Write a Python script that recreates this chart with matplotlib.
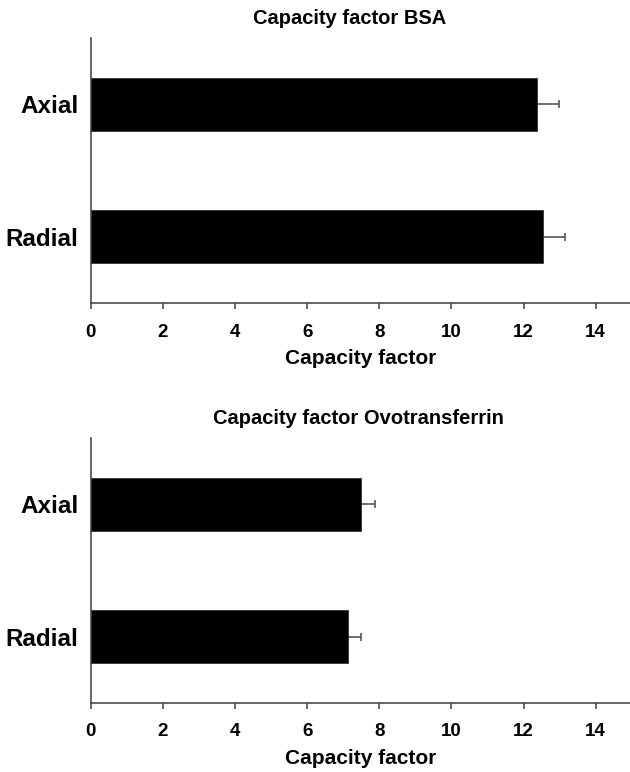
import numpy as np
import matplotlib
matplotlib.use("Agg")
import matplotlib.pyplot as plt

plt.rcParams['font.family'] = ['Liberation Sans', 'DejaVu Sans']
plt.rcParams['font.weight'] = 'bold'

categories = ["Radial", "Axial"]

bsa_values = [12.53, 12.37]
bsa_errors = [0.63, 0.61]

ovo_values = [7.13, 7.50]
ovo_errors = [0.35, 0.37]

titles = ["Capacity factor BSA", "Capacity factor Ovotransferrin"]
title_x = [0.48, 0.496]
xticks = [0, 2, 4, 6, 8, 10, 12, 14]

fig = plt.figure(figsize=(6.3, 7.72), dpi=100)
ax_top = fig.add_axes([0.144, 0.6075, 0.856, 0.3430])
ax_bot = fig.add_axes([0.144, 0.0895, 0.856, 0.3430])

spine_col = "#4d4d4d"
for ax, vals, errs, title, tx in zip([ax_top, ax_bot], [bsa_values, ovo_values],
                                     [bsa_errors, ovo_errors], titles, title_x):
    y = np.arange(len(categories))
    ax.barh(y, vals, height=0.4, color="black", edgecolor="#333333",
            linewidth=0.6, zorder=3)
    # one-sided error bars: the lower cap sits hidden behind the bar
    ax.errorbar(vals, y, xerr=[np.zeros(len(errs)), errs], fmt="none",
                ecolor="#555555", elinewidth=1.2, capsize=3, capthick=1.2,
                zorder=2)
    ax.set_xlim(0, 14.95)
    ax.set_ylim(-0.5, 1.5)
    ax.set_yticks(y)
    ax.set_yticklabels(categories, fontsize=17.5, fontweight="bold")
    ax.set_xticks(xticks)
    ax.set_xticklabels([str(t) for t in xticks], fontsize=13.5, fontweight="bold")
    ax.tick_params(axis="y", length=0, pad=9)
    ax.tick_params(axis="x", direction="out", length=4.3, width=1.2,
                   color=spine_col, pad=10.5)
    ax.set_xlabel("Capacity factor", fontsize=15, fontweight="bold", labelpad=6)
    ax.set_title(title, fontsize=14.5, fontweight="bold", x=tx, pad=10)
    for s in ["top", "right"]:
        ax.spines[s].set_visible(False)
    for s in ["left", "bottom"]:
        ax.spines[s].set_color(spine_col)
        ax.spines[s].set_linewidth(1.2)

fig.savefig("out.png", dpi=100)
